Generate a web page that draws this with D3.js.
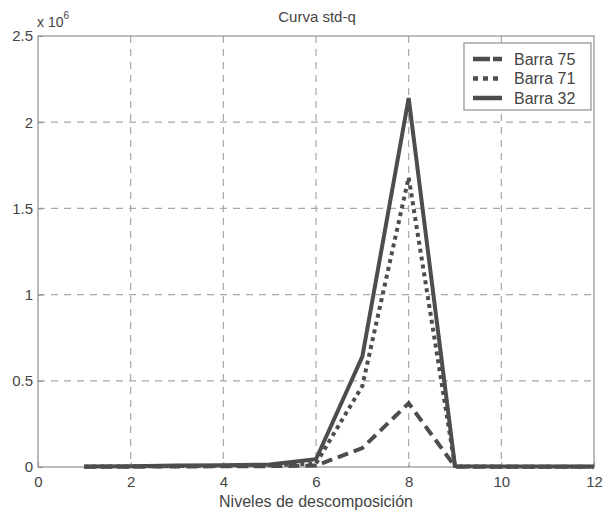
<!DOCTYPE html>
<html>
<head>
<meta charset="utf-8">
<script src="https://cdn.jsdelivr.net/npm/d3@7"></script>
<style>
  html, body { margin: 0; padding: 0; background: #fff; }
  svg { display: block; font-family: "Liberation Sans", Arial, sans-serif; }
</style>
</head>
<body>
<svg id="chart" width="604" height="516"></svg>
<script>
// Decomposition levels and std-q values per bar
const levels = [1, 2, 3, 4, 5, 6, 7, 8, 9, 10, 11, 12];
const barra75 = [1000, 2000, 3000, 4000, 5000, 8000, 110000, 370000, 2000, 1000, 1000, 1000];
const barra71 = [2000, 3000, 5000, 7000, 10000, 20000, 470000, 1680000, 3000, 2000, 2000, 2000];
const barra32 = [3000, 5000, 8000, 10000, 15000, 45000, 640000, 2140000, 5000, 3000, 3000, 3000];
const seriesNames = ["Barra 75", "Barra 71", "Barra 32"];
const xTicks = [0, 2, 4, 6, 8, 10, 12];
const yTicks = [0, 0.5e6, 1e6, 1.5e6, 2e6, 2.5e6];

const svg = d3.select("#chart");
const m = { left: 38, right: 594, top: 36, bottom: 467 };
const ink = "#444";
const grid = "#a8a8a8";
const lineInk = "#4d4d4d";

const x = d3.scaleLinear().domain([0, 12]).range([m.left, m.right]);
const y = d3.scaleLinear().domain([0, 2.5e6]).range([m.bottom, m.top]);

// grid lines
const g = svg.append("g");
g.selectAll(".vg").data(xTicks.slice(1, -1)).join("line")
  .attr("x1", d => x(d)).attr("x2", d => x(d))
  .attr("y1", m.top).attr("y2", m.bottom)
  .attr("stroke", grid).attr("stroke-width", 1.2).attr("stroke-dasharray", "7,6");
g.selectAll(".hg").data(yTicks.slice(1, -1)).join("line")
  .attr("x1", m.left).attr("x2", m.right)
  .attr("y1", d => y(d)).attr("y2", d => y(d))
  .attr("stroke", grid).attr("stroke-width", 1.2).attr("stroke-dasharray", "7,6");

// frame
svg.append("rect")
  .attr("x", m.left).attr("y", m.top)
  .attr("width", m.right - m.left).attr("height", m.bottom - m.top)
  .attr("fill", "none").attr("stroke", "#8f8f8f").attr("stroke-width", 1.2);

// axes (ticks point inward)
const xAxis = d3.axisBottom(x).tickValues(xTicks).tickSize(-5).tickPadding(9).tickFormat(d3.format("d"));
const yAxis = d3.axisLeft(y).tickValues(yTicks).tickSize(-5).tickPadding(5).tickFormat(d => d / 1e6);
const gx = svg.append("g").attr("transform", `translate(0,${m.bottom})`).call(xAxis);
const gy = svg.append("g").attr("transform", `translate(${m.left},0)`).call(yAxis);
[gx, gy].forEach(a => {
  a.select(".domain").remove();
  a.selectAll(".tick line").attr("stroke", "#8f8f8f");
  a.selectAll(".tick text").attr("fill", ink).style("font-size", "15px")
    .style("font-family", "'Liberation Sans', Arial, sans-serif");
});

// exponent label
const expo = svg.append("text").attr("x", 37).attr("y", 27).attr("fill", ink)
  .style("font-size", "14px");
expo.append("tspan").text("x 10");
expo.append("tspan").attr("dy", -8).style("font-size", "10px").text("6");

// title and x label
svg.append("text").attr("x", 317).attr("y", 22).attr("text-anchor", "middle")
  .attr("fill", ink).style("font-size", "15px").text("Curva std-q");
svg.append("text").attr("x", 316).attr("y", 507).attr("text-anchor", "middle")
  .attr("fill", ink).style("font-size", "16px").text("Niveles de descomposición");

// series
const styles = [
  { data: barra75, dash: "11,6" },
  { data: barra71, dash: "4,4" },
  { data: barra32, dash: null }
];
const line = d3.line().x((d, i) => x(levels[i])).y(d => y(d));
const lg = svg.append("g");
styles.forEach(s => {
  lg.append("path").datum(s.data)
    .attr("d", line)
    .attr("fill", "none").attr("stroke", lineInk).attr("stroke-width", 4)
    .attr("stroke-linejoin", "miter")
    .attr("stroke-dasharray", s.dash);
});

// legend
const legendDash = ["17,3", "5,5", null];
const leg = svg.append("g");
leg.append("rect").attr("x", 464).attr("y", 43).attr("width", 127).attr("height", 67)
  .attr("fill", "#fff").attr("stroke", "#8f8f8f").attr("stroke-width", 1.2);
seriesNames.forEach((name, i) => {
  const yy = 59 + i * 19.5;
  leg.append("line").attr("x1", 473).attr("x2", 502).attr("y1", yy).attr("y2", yy)
    .attr("stroke", lineInk).attr("stroke-width", 4.5)
    .attr("stroke-dasharray", legendDash[i]);
  leg.append("text").attr("x", 514).attr("y", yy + 5.5).attr("fill", ink)
    .style("font-size", "16px").text(name);
});
</script>
</body>
</html>
